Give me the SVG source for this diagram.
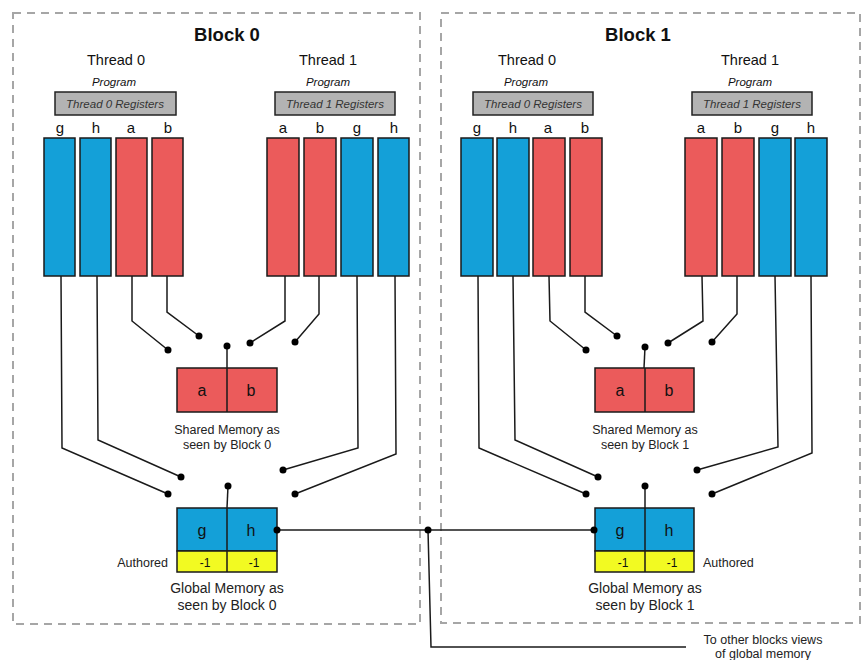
<svg xmlns="http://www.w3.org/2000/svg" width="862" height="660" viewBox="0 0 862 660">
<style>
text{font-family:"Liberation Sans",Arial,sans-serif;fill:#111}
.blk{fill:none;stroke:#a6a6a6;stroke-width:2;stroke-dasharray:8 6}
.ttl{font-size:18.5px;font-weight:bold;text-anchor:middle}
.thr{font-size:14.5px;text-anchor:middle}
.prg{font-size:11.5px;font-style:italic;text-anchor:middle}
.reg{fill:#b3b3b3;stroke:#222;stroke-width:1.5}
.regt{font-size:11.5px;font-style:italic;text-anchor:middle;fill:#333}
.let{font-size:15px;text-anchor:middle}
.b{fill:#14a0d8;stroke:#1a1a1a;stroke-width:1.5}
.r{fill:#eb5b5b;stroke:#1a1a1a;stroke-width:1.5}
.y{fill:#f2fa22;stroke:#1a1a1a;stroke-width:1.5}
.dv{stroke:#1a1a1a;stroke-width:1.5}
.cell{font-size:16px;text-anchor:middle}
.neg{font-size:12px;text-anchor:middle}
.lbl{font-size:12.5px;text-anchor:middle;fill:#222}
.glbl{font-size:14px;text-anchor:middle;fill:#222}
.aut{font-size:12.5px;fill:#222}
.w{fill:none;stroke:#1a1a1a;stroke-width:1.5}
.d{fill:#000}
</style>

<g id="block0">
<rect class="blk" x="13" y="13" width="407" height="611"/>
<text class="ttl" x="227" y="41">Block 0</text>
</g>
<g id="block1">
<rect class="blk" x="441" y="13" width="419" height="610"/>
<text class="ttl" x="638" y="41">Block 1</text>
</g>

<g id="b0-thread0">
<text class="thr" x="116" y="65">Thread 0</text>
<text class="prg" x="114" y="86">Program</text>
<rect class="reg" x="55" y="92" width="121" height="23"/>
<text class="regt" x="115" y="108">Thread 0 Registers</text>
<text class="let" x="60" y="133">g</text><text class="let" x="96" y="133">h</text><text class="let" x="131" y="133">a</text><text class="let" x="168" y="133">b</text>
<rect class="b" x="44" y="138" width="31" height="138"/>
<rect class="b" x="80" y="138" width="31" height="138"/>
<rect class="r" x="116" y="138" width="31" height="138"/>
<rect class="r" x="152" y="138" width="31" height="138"/>
</g>
<g id="b0-thread1">
<text class="thr" x="328" y="65">Thread 1</text>
<text class="prg" x="328" y="86">Program</text>
<rect class="reg" x="275" y="92" width="120" height="23"/>
<text class="regt" x="335" y="108">Thread 1 Registers</text>
<text class="let" x="283" y="133">a</text><text class="let" x="320" y="133">b</text><text class="let" x="357" y="133">g</text><text class="let" x="394" y="133">h</text>
<rect class="r" x="267" y="138" width="32" height="138"/>
<rect class="r" x="304" y="138" width="32" height="138"/>
<rect class="b" x="341" y="138" width="32" height="138"/>
<rect class="b" x="378" y="138" width="31" height="138"/>
</g>
<g id="b0-shared">
<rect class="r" x="177" y="368" width="100" height="44"/>
<line class="dv" x1="227" y1="368" x2="227" y2="412"/>
<text class="cell" x="202" y="396">a</text><text class="cell" x="251" y="396">b</text>
<text class="lbl" x="227" y="434">Shared Memory as</text>
<text class="lbl" x="227" y="449">seen by Block 0</text>
</g>
<g id="b0-global">
<rect class="b" x="177" y="508" width="100" height="43"/>
<rect class="y" x="177" y="551" width="100" height="21"/>
<line class="dv" x1="227" y1="508" x2="227" y2="572"/>
<text class="cell" x="202" y="536">g</text><text class="cell" x="251" y="536">h</text>
<text class="neg" x="205" y="567">-1</text><text class="neg" x="254" y="567">-1</text>
<text class="aut" x="168" y="567" text-anchor="end">Authored</text>
<text class="glbl" x="227" y="593">Global Memory as</text>
<text class="glbl" x="227" y="610">seen by Block 0</text>
</g>

<g id="b1-thread0">
<text class="thr" x="527" y="65">Thread 0</text>
<text class="prg" x="526" y="86">Program</text>
<rect class="reg" x="473" y="92" width="120" height="23"/>
<text class="regt" x="533" y="108">Thread 0 Registers</text>
<text class="let" x="477" y="133">g</text><text class="let" x="513" y="133">h</text><text class="let" x="548" y="133">a</text><text class="let" x="585" y="133">b</text>
<rect class="b" x="461" y="138" width="32" height="138"/>
<rect class="b" x="497" y="138" width="32" height="138"/>
<rect class="r" x="533" y="138" width="32" height="138"/>
<rect class="r" x="570" y="138" width="32" height="138"/>
</g>
<g id="b1-thread1">
<text class="thr" x="750" y="65">Thread 1</text>
<text class="prg" x="750" y="86">Program</text>
<rect class="reg" x="692" y="92" width="120" height="23"/>
<text class="regt" x="752" y="108">Thread 1 Registers</text>
<text class="let" x="701" y="133">a</text><text class="let" x="738" y="133">b</text><text class="let" x="775" y="133">g</text><text class="let" x="811" y="133">h</text>
<rect class="r" x="685" y="138" width="32" height="138"/>
<rect class="r" x="722" y="138" width="32" height="138"/>
<rect class="b" x="759" y="138" width="32" height="138"/>
<rect class="b" x="795" y="138" width="32" height="138"/>
</g>
<g id="b1-shared">
<rect class="r" x="595" y="368" width="99" height="44"/>
<line class="dv" x1="645" y1="368" x2="645" y2="412"/>
<text class="cell" x="620" y="396">a</text><text class="cell" x="669" y="396">b</text>
<text class="lbl" x="645" y="434">Shared Memory as</text>
<text class="lbl" x="645" y="449">seen by Block 1</text>
</g>
<g id="b1-global">
<rect class="b" x="595" y="508" width="99" height="43"/>
<rect class="y" x="595" y="551" width="99" height="21"/>
<line class="dv" x1="645" y1="508" x2="645" y2="572"/>
<text class="cell" x="620" y="536">g</text><text class="cell" x="669" y="536">h</text>
<text class="neg" x="623" y="567">-1</text><text class="neg" x="672" y="567">-1</text>
<text class="aut" x="703" y="567">Authored</text>
<text class="glbl" x="645" y="593">Global Memory as</text>
<text class="glbl" x="645" y="610">seen by Block 1</text>
</g>

<g id="note">
<text class="lbl" x="763" y="644">To other blocks views</text>
<text class="lbl" x="763" y="658">of global memory</text>
</g>

<g id="connectors">
<polyline class="w" points="61,276 62,448 168,494"/>
<polyline class="w" points="97,276 98,440 181,477"/>
<polyline class="w" points="132,276 132,321 168,350"/>
<polyline class="w" points="167,276 167,312 199,336"/>
<polyline class="w" points="285,276 285,321 250,343"/>
<polyline class="w" points="319,276 319,314 295,342"/>
<polyline class="w" points="357,276 358,448 283,470"/>
<polyline class="w" points="395,276 396,454 295,494"/>
<line class="w" x1="227" y1="346" x2="227" y2="368"/>
<line class="w" x1="228" y1="486" x2="227" y2="508"/>
<polyline class="w" points="478,276 479,448 586,494"/>
<polyline class="w" points="513,276 515,440 598,477"/>
<polyline class="w" points="549,276 550,321 586,350"/>
<polyline class="w" points="585,276 585,312 617,336"/>
<polyline class="w" points="702,276 703,321 668,343"/>
<polyline class="w" points="737,276 737,314 712,342"/>
<polyline class="w" points="775,276 778,447 697,470"/>
<polyline class="w" points="811,276 812,453 712,494"/>
<line class="w" x1="645" y1="347" x2="644" y2="368"/>
<line class="w" x1="645" y1="486" x2="645" y2="508"/>
<line class="w" x1="277" y1="530" x2="595" y2="530"/>
<polyline class="w" points="428,530 431,647 686,647"/>
<g class="d">
<circle cx="168" cy="494" r="3.5"/><circle cx="181" cy="477" r="3.5"/><circle cx="168" cy="350" r="3.5"/><circle cx="199" cy="336" r="3.5"/>
<circle cx="250" cy="343" r="3.5"/><circle cx="295" cy="342" r="3.5"/><circle cx="283" cy="470" r="3.5"/><circle cx="295" cy="494" r="3.5"/>
<circle cx="227" cy="346" r="3.5"/><circle cx="228" cy="486" r="3.5"/>
<circle cx="586" cy="494" r="3.5"/><circle cx="598" cy="477" r="3.5"/><circle cx="586" cy="350" r="3.5"/><circle cx="617" cy="336" r="3.5"/>
<circle cx="668" cy="343" r="3.5"/><circle cx="712" cy="342" r="3.5"/><circle cx="697" cy="470" r="3.5"/><circle cx="712" cy="494" r="3.5"/>
<circle cx="645" cy="347" r="3.5"/><circle cx="645" cy="486" r="3.5"/>
<circle cx="277" cy="530" r="3.5"/><circle cx="428" cy="530" r="3.5"/><circle cx="594" cy="530" r="3.5"/>
</g>
</g>
</svg>
